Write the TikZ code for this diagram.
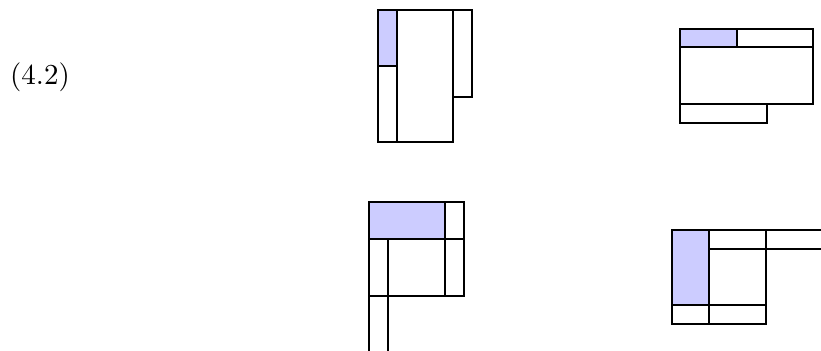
\documentclass[tikz,border=0pt]{standalone}
\begin{document}
\begin{tikzpicture}[x=0.345pt,y=-0.345pt,
  cell/.style={draw=black,line width=0.4pt},
  hl/.style={fill=blue!20,draw=black,line width=0.4pt},
  ln/.style={draw=black,line width=0.4pt}]
\useasboundingbox (0,0) rectangle (821,351);
\node (lbl) at (40,77) {$(4.2)$};
% diagram 1
\path[hl] (378,10) rectangle (397,66);
\path[cell] (378,66) rectangle (397,142);
\path[cell] (397,10) rectangle (453,142);
\path[cell] (453,10) rectangle (472,97);
% diagram 2
\path[hl] (680,29) rectangle (737,47);
\path[cell] (737,29) rectangle (813,47);
\path[cell] (680,47) rectangle (813,104);
\path[cell] (680,104) rectangle (767,123);
% diagram 3
\path[hl] (369,202) rectangle (445,239);
\path[cell] (445,202) rectangle (464,239);
\path[cell] (369,239) rectangle (464,296);
\path[ln] (445,239) -- (445,296);
\path[ln] (369,296) -- (369,351);
\path[ln] (388,239) -- (388,351);
% diagram 4
\path[hl] (672,230) rectangle (709,305);
\path[cell] (709,230) rectangle (766,305);
\path[cell] (672,305) rectangle (709,324);
\path[cell] (709,305) rectangle (766,324);
\path[ln] (709,249) -- (821,249);
\path[ln] (766,230) -- (821,230);
\end{tikzpicture}
\end{document}
